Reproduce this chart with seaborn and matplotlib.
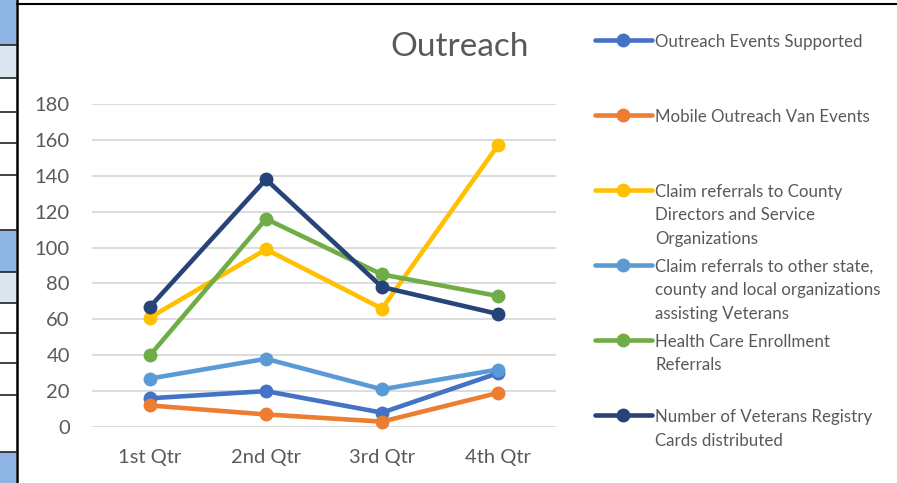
import pandas as pd
import matplotlib.pyplot as plt
import seaborn as sns
from matplotlib.patches import Rectangle
from matplotlib.lines import Line2D

# Chart data
quarters = ['1st Qtr', '2nd Qtr', '3rd Qtr', '4th Qtr']
series_names = [
    'Outreach Events Supported',
    'Mobile Outreach Van Events',
    'Claim referrals to County\nDirectors and Service\nOrganizations',
    'Claim referrals to other state,\ncounty and local organizations\nassisting Veterans',
    'Health Care Enrollment\nReferrals',
    'Number of Veterans Registry\nCards distributed',
]
outreach_events = [16, 20, 8, 30]
mobile_van = [12, 7, 3, 19]
claims_county = [61, 99, 66, 157]
claims_other = [27, 38, 21, 32]
health_care = [40, 116, 85, 73]
registry_cards = [67, 138, 78, 63]
colors = ['#4472C4', '#ED7D31', '#FFC000', '#5B9BD5', '#70AD47', '#264478']
y_ticks = [0, 20, 40, 60, 80, 100, 120, 140, 160, 180]

all_values = [outreach_events, mobile_van, claims_county, claims_other, health_care, registry_cards]
rows = []
for name, vals in zip(series_names, all_values):
    for q, v in zip(quarters, vals):
        rows.append({'Quarter': q, 'Value': v, 'Series': name})
df = pd.DataFrame(rows)

sns.set_style('white')
plt.rcParams['font.family'] = ['Lato', 'DejaVu Sans']
text_grey = '#595959'

W, H = 897, 483
fig = plt.figure(figsize=(W / 100, H / 100), dpi=100)
ax = fig.add_axes([92 / W, 1 - 427 / H, (556 - 92) / W, (427 - 104) / H])

sns.lineplot(data=df, x='Quarter', y='Value', hue='Series', palette=colors,
             marker='o', markersize=10, markeredgewidth=0, linewidth=3.3,
             sort=False, legend=False, ax=ax, clip_on=False)

ax.set_xlim(-0.5, 3.5)
ax.set_ylim(0, 180)
ax.set_yticks(y_ticks)
ax.set_xlabel('')
ax.set_ylabel('')
ax.grid(axis='y', color='#D9D9D9', linewidth=1.3)
ax.set_axisbelow(True)
sns.despine(ax=ax, left=True, bottom=True)
ax.tick_params(axis='both', length=0, labelsize=14.5, labelcolor=text_grey)
ax.tick_params(axis='y', pad=16)
ax.tick_params(axis='x', pad=16)

# Title
fig.text(460 / W, 1 - 47 / H, 'Outreach', ha='center', va='center',
         fontsize=24, color=text_grey)

# Legend: every entry padded to three lines so they sit evenly spaced
handles = [Line2D([], [], color=c, linewidth=3.3, marker='o', markersize=10,
                  markeredgewidth=0) for c in colors]
labels = [n + '\n' * (2 - n.count('\n')) for n in series_names]
leg = fig.legend(handles, labels, loc='upper left',
                 bbox_to_anchor=(595 / W, 1 - 34 / H), frameon=False,
                 fontsize=12.2, labelcolor=text_grey, handlelength=3.35,
                 handletextpad=0.2, borderpad=0, borderaxespad=0,
                 labelspacing=0.72)
for t in leg.get_texts():
    t.set_linespacing(1.57)
for col in leg._legend_handle_box.get_children():
    for row in col.get_children():
        row.align = 'top'

# Spreadsheet bits visible around the chart
fig.patches.append(Rectangle((0, 1 - 45 / H), 16 / W, 45 / H, transform=fig.transFigure,
                             facecolor='#8DB4E2', edgecolor='none'))
fig.patches.append(Rectangle((0, 1 - 78 / H), 16 / W, 33 / H, transform=fig.transFigure,
                             facecolor='#DCE6F1', edgecolor='none'))
fig.patches.append(Rectangle((0, 1 - 272 / H), 16 / W, 42 / H, transform=fig.transFigure,
                             facecolor='#8DB4E2', edgecolor='none'))
fig.patches.append(Rectangle((0, 1 - 303 / H), 16 / W, 31 / H, transform=fig.transFigure,
                             facecolor='#DCE6F1', edgecolor='none'))
fig.patches.append(Rectangle((0, 0), 16 / W, 31 / H, transform=fig.transFigure,
                             facecolor='#8DB4E2', edgecolor='none'))
for yy in [45, 78, 112, 143, 175, 230, 272, 303, 333, 363, 395, 452]:
    fig.add_artist(Line2D([0, 16 / W], [1 - yy / H, 1 - yy / H], color='#222222',
                          linewidth=1.2, transform=fig.transFigure))
fig.add_artist(Line2D([17 / W, 17 / W], [0, 1], color='black', linewidth=1.8,
                      transform=fig.transFigure))
fig.add_artist(Line2D([17 / W, 1], [1 - 4 / H, 1 - 4 / H], color='black', linewidth=1.5,
                      transform=fig.transFigure))

fig.savefig('out.png', dpi=100)
